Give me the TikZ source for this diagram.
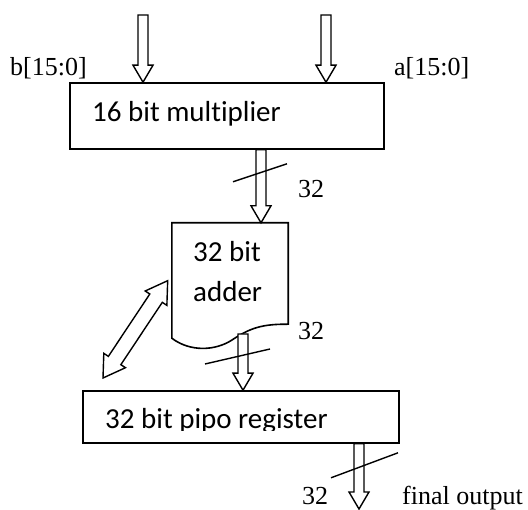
\documentclass[tikz,border=0pt]{standalone}
\usepackage{fontspec}
\usepackage{tikz}
\usetikzlibrary{calc}
\newfontfamily\blockfont[Ligatures=NoCommon]{Carlito}
\newfontfamily\sigfont{Liberation Serif}

\newcommand{\buslen}[2]{%
  \path let \p1=($(#2)-(#1)$) in \pgfextra{%
    \pgfmathsetmacro{\blen}{veclen(\x1,\y1)}\pgfmathsetmacro{\bang}{atan2(\y1,\x1)}%
    \global\let\blen\blen\global\let\bang\bang};}
\newcommand{\busarrow}[2]{%
  \buslen{#1}{#2}
  \draw[bus,shift={(#1)},rotate=\bang] (0,-5) -- (\blen-17,-5) -- (\blen-17,-10)
    -- (\blen,0) -- (\blen-17,10) -- (\blen-17,5) -- (0,5) -- cycle;}
\newcommand{\busboth}[2]{%
  \buslen{#1}{#2}
  \draw[bus,shift={(#1)},rotate=\bang] (0,0) -- (21,13) -- (21,7.5) -- (\blen-21,7.5)
    -- (\blen-21,13) -- (\blen,0) -- (\blen-21,-13) -- (\blen-21,-7.5) -- (21,-7.5)
    -- (21,-13) -- cycle;}

\begin{document}
\begin{tikzpicture}[x=1pt,y=1pt,
    box/.style={draw, fill=white, line width=1.6pt, inner sep=0pt},
    bus/.style={draw, fill=white, line width=1.4pt, line join=miter},
    tick/.style={line width=1.4pt},
    blk/.style={font=\blockfont\fontsize{29}{36}\selectfont, inner sep=0pt, anchor=base west},
    sig/.style={font=\sigfont\fontsize{26}{31}\selectfont, inner sep=0pt, anchor=base west}]
  \useasboundingbox (0,0) rectangle (528,-510);

  \node[box, minimum width=314, minimum height=66] (mult) at (227,-116) {};
  \node[blk] (multtxt) at (92,-122) {16 bit multiplier};
  \node[sig] (blab) at (10,-76) {b[15:0]};
  \node[sig] (alab) at (394,-76) {a[15:0]};
  \foreach \nm/\xx in {bin/143,ain/326} {
    \coordinate (\nm) at (\xx,-15);
    \coordinate (\nm end) at (\nm |- mult.north);
    \busarrow{\nm}{\nm end}
  }

  \node[minimum width=116, minimum height=115, inner sep=0pt] (adder) at (230,-280.5) {};
  \coordinate (fb) at (103,-378);
  \coordinate (fbtip) at ([xshift=-4]adder.west);
  \busboth{fb}{fbtip}
  \draw[box] (adder.south west) -- (adder.north west) -- (adder.north east)
    -- ([yshift=14]adder.south east) .. controls (262,-324) and (250,-328) .. (232,-340)
    .. controls (215,-351) and (190,-352) .. (adder.south west) -- cycle;
  \node[blk] (addtxt1) at (193,-262) {32 bit};
  \node[blk] (addtxt2) at (193,-302) {adder};

  \coordinate (m1) at ([xshift=34]mult.south);
  \coordinate (a1) at (m1 |- adder.north);
  \busarrow{m1}{a1}
  \draw[tick] ($(m1)+(-28,-32)$) -- ($(m1)+(26,-14)$);
  \node[sig] (w1) at (298,-198) {32};
  \node[sig] (w2) at (298,-340) {32};

  \node[box, minimum width=316, minimum height=52] (reg) at (241,-417) {};
  \begin{scope}
    \clip (reg.north west) rectangle ([yshift=-40]reg.north east);
    \node[blk] (regtxt) at (105,-429) {32 bit pipo register};
  \end{scope}
  \coordinate (a2) at (243,-334);
  \coordinate (r1) at (a2 |- reg.north);
  \busarrow{a2}{r1}
  \draw[tick] ($(a2)+(-38,-30)$) -- ($(a2)+(27,-15)$);

  \coordinate (r2) at ([xshift=118]reg.south);
  \coordinate (out) at (359,-509);
  \busarrow{r2}{out}
  \draw[tick] ($(r2)+(-28,-34)$) -- ($(r2)+(39,-9)$);
  \node[sig] (w3) at (302,-505) {32};
  \node[sig] (outlab) at (402,-505) {final output};
\end{tikzpicture}
\end{document}
